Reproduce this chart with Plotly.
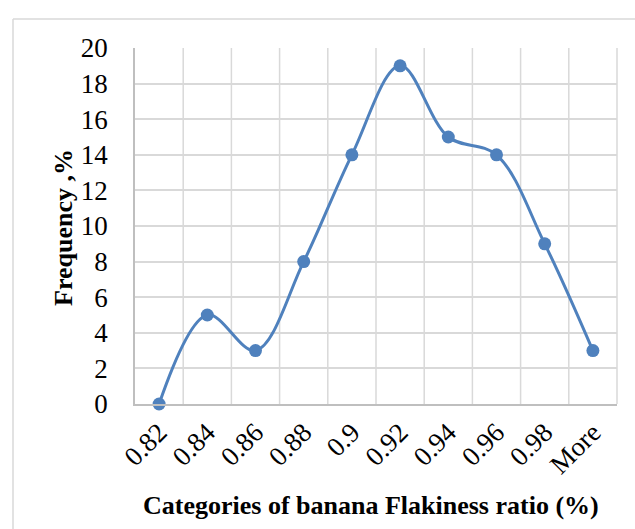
import plotly.graph_objects as go

categories = ["0.82", "0.84", "0.86", "0.88", "0.9", "0.92", "0.94", "0.96", "0.98", "More"]
frequency = [0, 5, 3, 8, 14, 19, 15, 14, 9, 3]
y_ticks = [0, 2, 4, 6, 8, 10, 12, 14, 16, 18, 20]

W, H = 635, 529
L, R, T, B = 135, 18, 48, 125
pw, ph = W - L - R, H - T - B

def px_x(p):
    return (p - L) / pw

def px_y(p):
    return (H - B - p) / ph

FONT = "Liberation Serif, Times New Roman, serif"
GRID = "#d9d9d9"
TICK_SIZE = 27
TITLE_SIZE = 26

fig = go.Figure()
fig.add_trace(go.Scatter(
    x=categories, y=frequency, mode="lines+markers",
    line=dict(color="#4F81BD", width=3, shape="spline", smoothing=1),
    marker=dict(color="#4F81BD", size=13),
    cliponaxis=False, showlegend=False,
))

fig.update_layout(
    width=W, height=H,
    margin=dict(l=L, r=R, t=T, b=B),
    paper_bgcolor="white", plot_bgcolor="white",
    font=dict(family=FONT, size=TICK_SIZE, color="black"),
    xaxis=dict(
        type="category", range=[-0.5, len(categories) - 0.5],
        showgrid=False, tickangle=-45, ticks="", ticklen=0,
        showline=True, linecolor="#bfbfbf", linewidth=1.5, mirror=False,
        tickfont=dict(family=FONT, size=TICK_SIZE),
    ),
    yaxis=dict(
        range=[0, 20], tickvals=y_ticks, ticks="",
        showgrid=True, gridcolor=GRID, gridwidth=1.5,
        showline=True, linecolor="#bfbfbf", linewidth=1.5,
        zeroline=False, ticklabelstandoff=20,
        tickfont=dict(family=FONT, size=TICK_SIZE),
    ),
    shapes=[
        *[dict(type="line", xref="x", yref="paper", x0=i + 0.5, x1=i + 0.5, y0=0, y1=1,
               line=dict(color=GRID, width=1.5), layer="below") for i in range(len(categories) - 1)],
        dict(type="line", xref="paper", yref="paper", x0=1, x1=1, y0=0, y1=1,
             line=dict(color=GRID, width=1.5), layer="below"),
        dict(type="line", xref="paper", yref="paper", x0=px_x(13), x1=px_x(640), y0=px_y(19), y1=px_y(19),
             line=dict(color=GRID, width=1.5)),
        dict(type="line", xref="paper", yref="paper", x0=px_x(13), x1=px_x(13), y0=px_y(19), y1=px_y(540),
             line=dict(color=GRID, width=1.5)),
    ],
    annotations=[
        dict(text="<b>Frequency ,%</b>", xref="paper", yref="paper", x=px_x(63), y=px_y(228),
             xanchor="center", yanchor="middle", textangle=-90, showarrow=False,
             font=dict(family=FONT, size=TITLE_SIZE)),
        dict(text="<b>Categories of banana Flakiness ratio (%)</b>", xref="paper", yref="paper",
             x=px_x(371), y=px_y(505), xanchor="center", yanchor="middle", showarrow=False,
             font=dict(family=FONT, size=TITLE_SIZE)),
    ],
)

fig.write_html("out.html")
